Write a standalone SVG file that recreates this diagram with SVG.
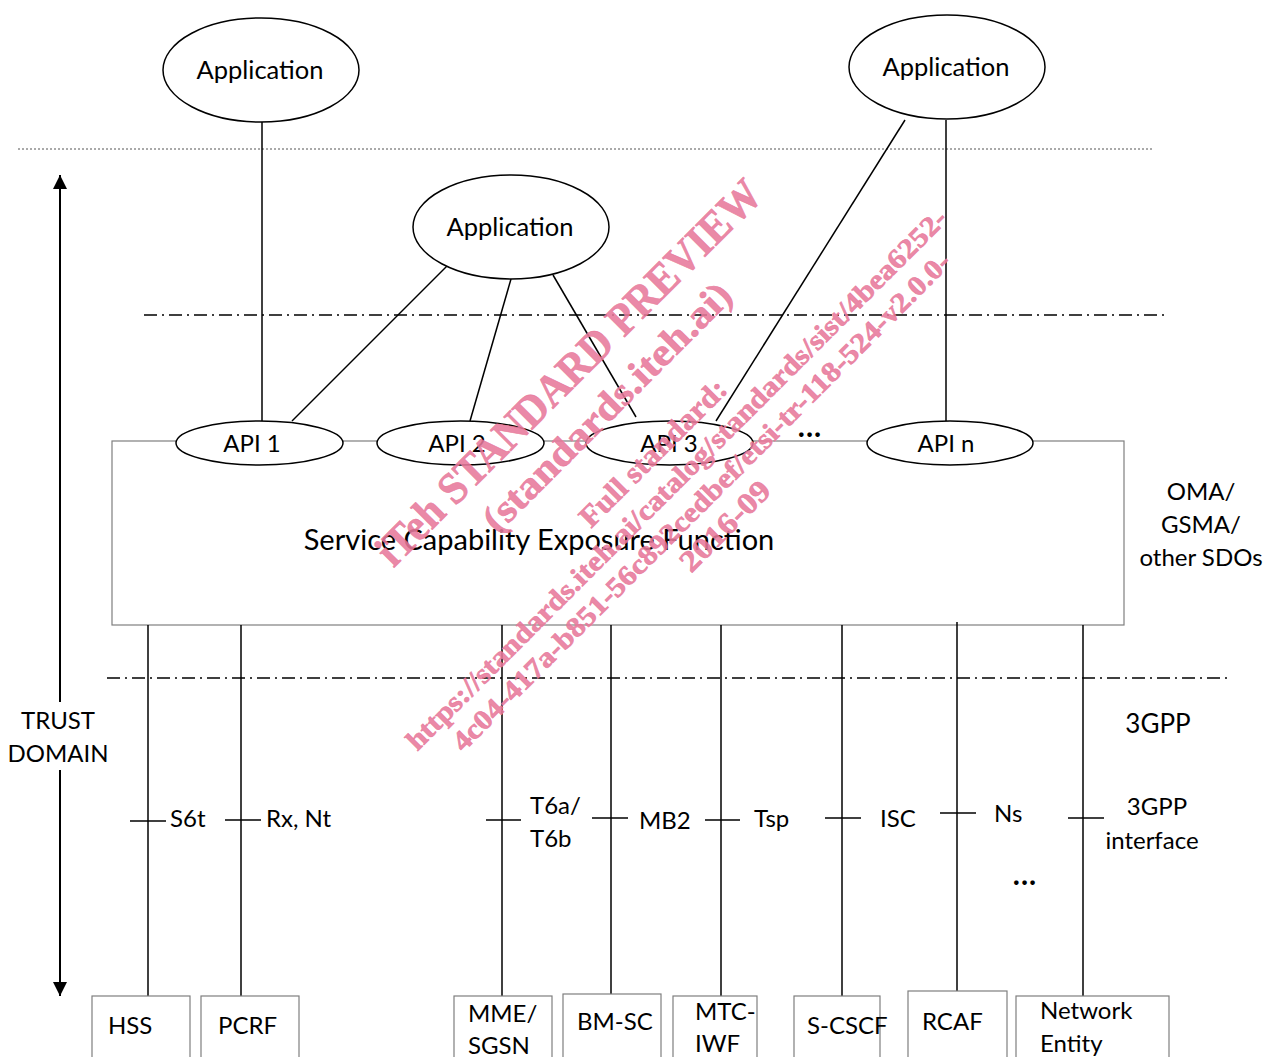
<svg xmlns="http://www.w3.org/2000/svg" width="1265" height="1057" viewBox="0 0 1265 1057">
<defs>
<style>
.t{font-family:Lato,"Open Sans","Liberation Sans",sans-serif;font-size:24px;fill:#000}
.c{text-anchor:middle}
.dots{font-size:30px;font-weight:bold;letter-spacing:1px}
.ln{stroke:#000;stroke-width:1.5;fill:none}
.el{stroke:#000;stroke-width:1.5;fill:#fff}
.bx{stroke:#7f7f7f;stroke-width:1.2;fill:#fff}
.dd{stroke:#000;stroke-width:1.5;stroke-dasharray:13 5 2 5;fill:none}
.wm{font-family:"Liberation Serif","DejaVu Serif",serif;font-weight:bold;fill:#e8799b;fill-opacity:0.88;stroke:#e8799b;stroke-opacity:0.88;stroke-width:0.7;text-anchor:middle}
</style>
<marker id="ah" viewBox="0 0 10 10" refX="10" refY="5" markerWidth="14" markerHeight="14" markerUnits="userSpaceOnUse" orient="auto-start-reverse">
<path d="M0,0 L10,5 L0,10 z" fill="#000"/>
</marker>
</defs>
<rect width="1265" height="1057" fill="#fff"/>

<g id="boundaries">
<line x1="18" y1="149" x2="1153" y2="149" stroke="#555" stroke-width="1" stroke-dasharray="2 2"/>
<line class="dd" x1="144" y1="315" x2="1167" y2="315"/>
<line class="dd" x1="107" y1="678" x2="1230" y2="678"/>
</g>

<g id="scef">
<rect class="bx" x="112" y="441" width="1012" height="184"/>
<text class="t" x="539" y="550" style="font-size:29px" text-anchor="middle">Service Capability Exposure Function</text>
</g>

<g id="connectors">
<line class="ln" x1="262" y1="122" x2="262" y2="421"/>
<line class="ln" x1="451" y1="262" x2="292" y2="421"/>
<line class="ln" x1="511" y1="279" x2="470" y2="421"/>
<line class="ln" x1="553" y1="275" x2="636" y2="417"/>
<line class="ln" x1="905" y1="120" x2="716" y2="421"/>
<line class="ln" x1="946" y1="120" x2="946" y2="421"/>
<line class="ln" x1="148" y1="625" x2="148" y2="996"/>
<line class="ln" x1="241" y1="625" x2="241" y2="996"/>
<line class="ln" x1="502" y1="625" x2="502" y2="996"/>
<line class="ln" x1="611" y1="625" x2="611" y2="994"/>
<line class="ln" x1="721" y1="625" x2="721" y2="996"/>
<line class="ln" x1="842" y1="625" x2="842" y2="996"/>
<line class="ln" x1="957" y1="622" x2="957" y2="991"/>
<line class="ln" x1="1083" y1="625" x2="1083" y2="996"/>
<line class="ln" x1="130" y1="821" x2="166" y2="821"/>
<line class="ln" x1="225" y1="820" x2="261" y2="820"/>
<line class="ln" x1="486" y1="820" x2="521" y2="820"/>
<line class="ln" x1="592" y1="818" x2="628" y2="818"/>
<line class="ln" x1="705" y1="820" x2="740" y2="820"/>
<line class="ln" x1="825" y1="818" x2="861" y2="818"/>
<line class="ln" x1="940" y1="813" x2="976" y2="813"/>
<line class="ln" x1="1068" y1="818" x2="1104" y2="818"/>
</g>

<g id="trust-domain">
<line x1="60" y1="175" x2="60" y2="702" stroke="#000" stroke-width="2" marker-start="url(#ah)"/>
<line x1="60" y1="770" x2="60" y2="996" stroke="#000" stroke-width="2" marker-end="url(#ah)"/>
<text class="t c" x="58" y="729">TRUST</text>
<text class="t c" x="58" y="762">DOMAIN</text>
</g>

<g id="app1"><ellipse class="el" cx="261" cy="70" rx="98" ry="52"/><text class="t c" x="260" y="79" style="font-size:25.5px">Application</text></g>
<g id="app2"><ellipse class="el" cx="511" cy="227" rx="98" ry="52"/><text class="t c" x="510" y="236" style="font-size:25.5px">Application</text></g>
<g id="app3"><ellipse class="el" cx="947" cy="67" rx="98" ry="52"/><text class="t c" x="946" y="76" style="font-size:25.5px">Application</text></g>

<g id="api1"><ellipse class="el" cx="259.5" cy="443" rx="83.5" ry="22"/><text class="t c" x="252" y="452">API 1</text></g>
<g id="api2"><ellipse class="el" cx="460.5" cy="443" rx="83.5" ry="22"/><text class="t c" x="457" y="452">API 2</text></g>
<g id="api3"><ellipse class="el" cx="669.5" cy="443" rx="83.5" ry="22"/><text class="t c" x="669" y="452">API 3</text></g>
<g id="apin"><ellipse class="el" cx="950" cy="443" rx="83" ry="22"/><text class="t c" x="946" y="452">API n</text></g>
<text class="t c dots" x="810" y="437">...</text>

<g id="labels">
<text class="t c" x="1201" y="500">OMA/</text>
<text class="t c" x="1201" y="533">GSMA/</text>
<text class="t c" x="1201" y="566">other SDOs</text>
<text class="t c" x="1158" y="733" style="font-size:26px">3GPP</text>
<text class="t" x="170" y="827">S6t</text>
<text class="t" x="266" y="827">Rx, Nt</text>
<text class="t" x="530" y="814">T6a/</text>
<text class="t" x="530" y="847">T6b</text>
<text class="t" x="639" y="829">MB2</text>
<text class="t" x="754" y="827">Tsp</text>
<text class="t" x="880" y="827">ISC</text>
<text class="t" x="994" y="822">Ns</text>
<text class="t c" x="1157" y="815">3GPP</text>
<text class="t c" x="1152" y="849">interface</text>
<text class="t c dots" x="1025" y="885">...</text>
</g>

<g id="hss"><rect class="bx" x="92" y="996" width="98" height="80"/><text class="t" x="108" y="1034">HSS</text></g>
<g id="pcrf"><rect class="bx" x="201" y="996" width="98" height="80"/><text class="t" x="218" y="1034">PCRF</text></g>
<g id="mme"><rect class="bx" x="454" y="996" width="98" height="80"/><text class="t" x="468" y="1022">MME/</text><text class="t" x="468" y="1054">SGSN</text></g>
<g id="bmsc"><rect class="bx" x="563" y="994" width="98" height="80"/><text class="t" x="577" y="1030">BM-SC</text></g>
<g id="mtciwf"><rect class="bx" x="673" y="996" width="84" height="80"/><text class="t" x="695" y="1020">MTC-</text><text class="t" x="695" y="1052">IWF</text></g>
<g id="scscf"><rect class="bx" x="794" y="996" width="86" height="80"/><text class="t" x="807" y="1034">S-CSCF</text></g>
<g id="rcaf"><rect class="bx" x="908" y="991" width="99" height="80"/><text class="t" x="922" y="1030">RCAF</text></g>
<g id="ne"><rect class="bx" x="1016" y="996" width="153" height="80"/><text class="t" x="1040" y="1019">Network</text><text class="t" x="1040" y="1052">Entity</text></g>

<g id="watermark">
<text class="wm" transform="translate(579,383) rotate(-45)" style="font-size:45px" textLength="525" lengthAdjust="spacingAndGlyphs">iTeh STANDARD PREVIEW</text>
<text class="wm" transform="translate(616,416) rotate(-45)" style="font-size:39px" textLength="335" lengthAdjust="spacingAndGlyphs">(standards.iteh.ai)</text>
<text class="wm" transform="translate(660,460) rotate(-45)" style="font-size:30px" textLength="195" lengthAdjust="spacingAndGlyphs">Full standard:</text>
<text class="wm" transform="translate(683,486) rotate(-45)" style="font-size:28px" textLength="752" lengthAdjust="spacingAndGlyphs">https://standards.iteh.ai/catalog/standards/sist/4bea6252-</text>
<text class="wm" transform="translate(708,508) rotate(-45)" style="font-size:28px" textLength="692" lengthAdjust="spacingAndGlyphs">4c04-417a-b851-56c892cedbef/etsi-tr-118-524-v2.0.0-</text>
<text class="wm" transform="translate(732,533) rotate(-45)" style="font-size:30px" textLength="115" lengthAdjust="spacingAndGlyphs">2016-09</text>
</g>
</svg>
